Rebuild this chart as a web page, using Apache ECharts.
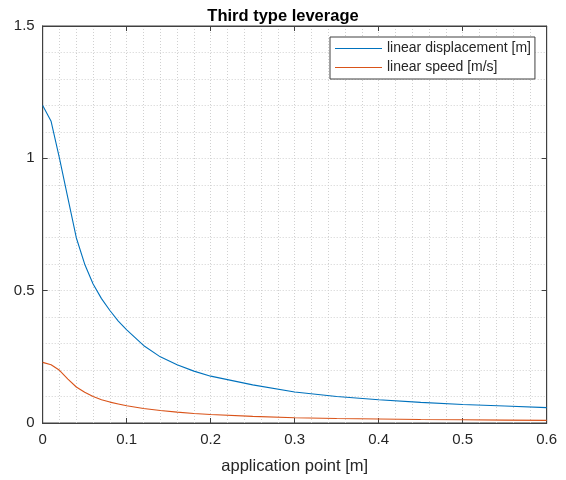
<!DOCTYPE html>
<html>
<head>
<meta charset="utf-8">
<script src="https://cdn.jsdelivr.net/npm/echarts@6/dist/echarts.min.js"></script>
<style>html,body{margin:0;padding:0;background:#fff;}#chart{width:566px;height:480px;}</style>
</head>
<body>
<div id="chart"></div>
<script>
const titleText = 'Third type leverage';
const xLabel = 'application point [m]';
const seriesNames = ['linear displacement [m]', 'linear speed [m/s]'];
const xValues = [0, 0.01, 0.02, 0.03, 0.04, 0.05, 0.06, 0.07, 0.08, 0.09, 0.10,
  0.12, 0.14, 0.16, 0.18, 0.20, 0.25, 0.30, 0.35, 0.40, 0.45, 0.50, 0.55, 0.60];
const displacement = [1.20, 1.14, 1.00, 0.85, 0.70, 0.60, 0.525, 0.47, 0.425, 0.385, 0.352,
  0.293, 0.250, 0.220, 0.196, 0.177, 0.144, 0.117, 0.100, 0.088, 0.078, 0.070, 0.064, 0.058];
const speed = [0.229, 0.220, 0.199, 0.166, 0.136, 0.116, 0.100, 0.088, 0.079, 0.072, 0.065,
  0.055, 0.047, 0.041, 0.036, 0.032, 0.025, 0.020, 0.017, 0.015, 0.013, 0.0125, 0.011, 0.0098];

const zip = (xs, ys) => xs.map((x, i) => [x, ys[i]]);
const font = 'Liberation Sans, Arial, Helvetica, sans-serif';
const axisColor = '#404040';
const textColor = '#262626';
const gridLine = { show: true, lineStyle: { color: '#d0d0d0', type: [1, 2], width: 1 } };
const boxLine = { show: true, onZero: false, lineStyle: { color: axisColor, width: 1 } };

function tickAxis(position, max, interval, inside, length) {
  return {
    type: 'value', min: 0, max: max, interval: interval, position: position, gridIndex: 0,
    axisLine: boxLine,
    axisTick: { show: true, inside: inside, length: length, lineStyle: { color: axisColor, width: 1 } },
    axisLabel: { show: false }, splitLine: { show: false }
  };
}

const chart = echarts.init(document.getElementById('chart'), null, { renderer: 'canvas' });
chart.setOption({
  backgroundColor: '#ffffff',
  animation: false,
  title: {
    text: titleText, left: 'center', top: 3,
    textStyle: { fontFamily: font, fontSize: 16.5, fontWeight: 'bold', color: '#000' }
  },
  grid: { left: 42.7, right: 19.3, top: 26, bottom: 56.7, containLabel: false,
    show: true, borderColor: axisColor, borderWidth: 1, backgroundColor: 'transparent' },
  legend: {
    data: seriesNames.map(n => ({ name: n, icon: 'rect' })),
    orient: 'vertical',
    left: 330, top: 37,
    padding: [4, 4, 4, 5],
    itemGap: 4,
    itemWidth: 47, itemHeight: 1.2,
    backgroundColor: '#ffffff',
    borderColor: axisColor, borderWidth: 1,
    textStyle: { fontFamily: font, fontSize: 14, color: textColor, lineHeight: 15 }
  },
  xAxis: [{
    type: 'value', min: 0, max: 0.6, interval: 0.1,
    name: xLabel, nameLocation: 'middle', nameGap: 35,
    nameTextStyle: { fontFamily: font, fontSize: 16.5, color: textColor },
    axisLine: boxLine,
    axisTick: { show: false },
    axisLabel: { fontFamily: font, fontSize: 15, color: textColor, margin: 9 },
    splitLine: gridLine,
    minorTick: { show: false, splitNumber: 5 },
    minorSplitLine: gridLine
  }, tickAxis('top', 0.6, 0.1, true, 5), tickAxis('bottom', 0.6, 0.1, false, -5)],
  yAxis: [{
    type: 'value', min: 0, max: 1.5, interval: 0.5,
    axisLine: boxLine,
    axisTick: { show: false },
    axisLabel: { fontFamily: font, fontSize: 15, color: textColor, margin: 8 },
    splitLine: gridLine,
    minorTick: { show: false, splitNumber: 5 },
    minorSplitLine: gridLine
  }, tickAxis('right', 1.5, 0.5, true, 5), tickAxis('left', 1.5, 0.5, false, -5)],
  series: [{
    name: seriesNames[0], type: 'line', data: zip(xValues, displacement),
    xAxisIndex: 0, yAxisIndex: 0,
    symbol: 'none', smooth: false,
    lineStyle: { color: '#0072BD', width: 1.1 }, itemStyle: { color: '#0072BD' }
  }, {
    name: seriesNames[1], type: 'line', data: zip(xValues, speed),
    xAxisIndex: 0, yAxisIndex: 0,
    symbol: 'none', smooth: false,
    lineStyle: { color: '#D95319', width: 1.1 }, itemStyle: { color: '#D95319' }
  }]
});
</script>
</body>
</html>
